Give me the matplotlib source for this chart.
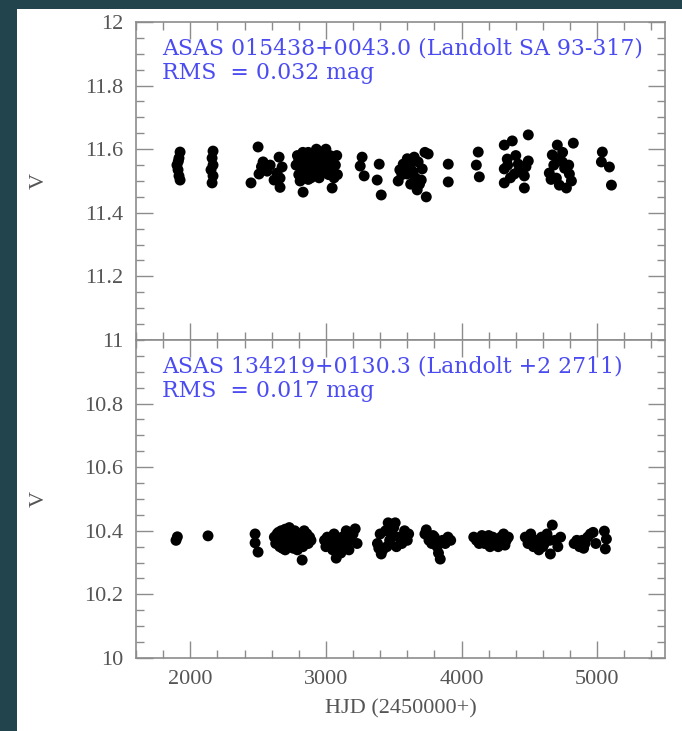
import matplotlib
matplotlib.use("Agg")
import matplotlib.pyplot as plt
from matplotlib.ticker import MultipleLocator, FormatStrFormatter
from matplotlib.patches import Rectangle

# ASAS 015438+0043.0 (Landolt SA 93-317)
hjd_a = [1925, 1917, 1902, 1910, 1917, 1925, 1912,
         2168, 2161, 2168, 2153, 2168, 2161,
         2500, 2537, 2448, 2507, 2655, 2677, 2662, 2662, 2618, 2567, 2589, 2640, 2525,
         2780, 2790, 2800, 2810, 2820, 2830, 2840, 2850, 2860, 2870, 2880, 2890, 2900,
         2910, 2920, 2930, 2940, 2950, 2960, 2970, 2980, 2990, 3000, 3010, 3020, 3030,
         3040, 3050, 3060, 3070, 3080, 3085, 2832, 3046, 2850, 2900, 2950, 3000, 2870,
         2800, 2940, 2990, 3060,
         3267, 3253, 3282, 3393, 3378, 3408,
         3533, 3570, 3651, 3754, 3710, 3673, 3740, 3599, 3703, 3620, 3640, 3680, 3560,
         3690, 3600, 3730, 3660, 3545, 3625,
         3902, 3902,
         4123, 4109, 4131,
         4315, 4374, 4337, 4315, 4418, 4492, 4463, 4315, 4463, 4389, 4492, 4340, 4400,
         4450, 4360, 4420, 4475,
         4706, 4824, 4669, 4647, 4743, 4795, 4721, 4773, 4810, 4699, 4680, 4760, 4720,
         4790, 4660, 4745,
         5038, 5031, 5090, 5105]
v_a = [11.591, 11.572, 11.550, 11.535, 11.516, 11.503, 11.562,
       11.594, 11.572, 11.550, 11.535, 11.516, 11.494,
       11.607, 11.560, 11.494, 11.522, 11.575, 11.544, 11.509, 11.480, 11.503, 11.531,
       11.550, 11.525, 11.545,
       11.55, 11.58, 11.52, 11.50, 11.56, 11.59, 11.54, 11.57, 11.52, 11.59, 11.55,
       11.51, 11.58, 11.53, 11.56, 11.60, 11.54, 11.51, 11.57, 11.59, 11.53, 11.56,
       11.60, 11.55, 11.52, 11.58, 11.54, 11.57, 11.51, 11.55, 11.58, 11.52, 11.465,
       11.478, 11.53, 11.545, 11.565, 11.535, 11.505, 11.565, 11.585, 11.545, 11.575,
       11.575, 11.547, 11.516, 11.553, 11.503, 11.456,
       11.500, 11.553, 11.575, 11.585, 11.538, 11.472, 11.450, 11.522, 11.503, 11.55,
       11.53, 11.56, 11.52, 11.49, 11.57, 11.59, 11.51, 11.535, 11.49,
       11.553, 11.497,
       11.591, 11.550, 11.513,
       11.613, 11.626, 11.569, 11.538, 11.553, 11.563, 11.516, 11.494, 11.478, 11.522,
       11.645, 11.55, 11.58, 11.54, 11.51, 11.53, 11.545,
       11.613, 11.619, 11.582, 11.525, 11.560, 11.522, 11.487, 11.478, 11.500, 11.509,
       11.55, 11.54, 11.57, 11.55, 11.505, 11.59,
       11.591, 11.560, 11.544, 11.487]

# ASAS 134219+0130.3 (Landolt +2 2711)
hjd_b = [1895, 1905, 2131,
         2478, 2478, 2500,
         2620, 2630, 2640, 2650, 2660, 2670, 2680, 2690, 2700, 2710, 2720, 2730, 2740,
         2750, 2760, 2770, 2780, 2790, 2800, 2810, 2820, 2830, 2840, 2850, 2860, 2870,
         2880, 2890, 2700, 2760, 2825, 2650, 2740, 2800, 2680,
         2990, 3000, 3010, 3030, 3050, 3060, 3076, 3090, 3100, 3120, 3140, 3150, 3170,
         3180, 3200, 3216, 3230, 3110, 3160,
         3380, 3400, 3408, 3420, 3440, 3459, 3470, 3490, 3511, 3520, 3540, 3560, 3580,
         3600, 3610, 3450, 3500, 3390,
         3730, 3740, 3760, 3780, 3800, 3820, 3830, 3843, 3860, 3880, 3900, 3920, 3790,
         4090, 4110, 4130, 4150, 4170, 4190, 4210, 4230, 4250, 4270, 4290, 4310, 4330,
         4345, 4200, 4280, 4320,
         4470, 4490, 4510, 4530, 4550, 4570, 4590, 4610, 4630, 4655, 4669, 4690, 4710,
         4730, 4520, 4600, 4650,
         4830, 4850, 4870, 4890, 4910, 4930, 4950, 4970, 4990, 5053, 5068, 5060, 4900]
v_b = [10.370, 10.381, 10.384,
       10.390, 10.362, 10.333,
       10.38, 10.36, 10.39, 10.37, 10.35, 10.40, 10.38, 10.36, 10.34, 10.39, 10.37,
       10.41, 10.35, 10.38, 10.36, 10.40, 10.37, 10.34, 10.39, 10.36, 10.38, 10.35,
       10.40, 10.37, 10.39, 10.36, 10.38, 10.37, 10.405, 10.345, 10.308, 10.395,
       10.385, 10.355, 10.345,
       10.37, 10.35, 10.38, 10.36, 10.34, 10.39, 10.314, 10.37, 10.35, 10.38, 10.36,
       10.40, 10.34, 10.37, 10.39, 10.406, 10.36, 10.33, 10.385,
       10.36, 10.39, 10.327, 10.34, 10.40, 10.425, 10.37, 10.39, 10.425, 10.35, 10.38,
       10.36, 10.40, 10.37, 10.39, 10.35, 10.41, 10.345,
       10.39, 10.403, 10.37, 10.36, 10.38, 10.35, 10.33, 10.311, 10.37, 10.36, 10.38,
       10.37, 10.385,
       10.38, 10.37, 10.36, 10.385, 10.36, 10.37, 10.35, 10.38, 10.36, 10.35, 10.38,
       10.39, 10.37, 10.38, 10.385, 10.37, 10.355,
       10.38, 10.36, 10.39, 10.35, 10.37, 10.34, 10.38, 10.36, 10.39, 10.327, 10.418,
       10.37, 10.35, 10.38, 10.37, 10.35, 10.37,
       10.36, 10.37, 10.35, 10.37, 10.36, 10.38, 10.39, 10.395, 10.36, 10.399, 10.374,
       10.343, 10.345]

titles = ["ASAS 015438+0043.0 (Landolt SA 93-317)",
          "ASAS 134219+0130.3 (Landolt +2 2711)"]
rms_labels = ["RMS  = 0.032 mag", "RMS  = 0.017 mag"]
ylims = [(11, 12), (10, 11)]
xlim = (1600, 5500)

axis_grey = "#8c8c8c"
label_grey = "#555555"
note_blue = "#4b4bf2"
tick_font = "Liberation Serif"
note_font = "DejaVu Serif"

fig = plt.figure(figsize=(6.82, 7.31), dpi=100, facecolor="#21444d")
fig.add_artist(Rectangle((17 / 682, 0), 1, 1 - 9 / 731, transform=fig.transFigure,
                         facecolor="white", edgecolor="none", zorder=-10))

ax_top = fig.add_axes([0.1994, 0.5349, 0.7757, 0.435])
ax_bot = fig.add_axes([0.1994, 0.0999, 0.7757, 0.435])

for ax, x, y, ttl, rms, yl in zip([ax_top, ax_bot], [hjd_a, hjd_b], [v_a, v_b],
                                 titles, rms_labels, ylims):
    ax.scatter(x, y, s=62, color="black", edgecolors="none", zorder=3)
    ax.set_xlim(*xlim)
    ax.set_ylim(*yl)
    ax.xaxis.set_major_locator(MultipleLocator(1000))
    ax.xaxis.set_minor_locator(MultipleLocator(200))
    ax.yaxis.set_major_locator(MultipleLocator(0.2))
    ax.yaxis.set_minor_locator(MultipleLocator(0.05))
    ax.yaxis.set_major_formatter(FormatStrFormatter("%g"))
    ax.tick_params(which="both", direction="in", top=True, right=True,
                   color=axis_grey, width=1.0, labelcolor=label_grey)
    ax.tick_params(which="major", length=12, pad=9, labelsize=16)
    ax.tick_params(which="minor", length=6)
    for sp in ax.spines.values():
        sp.set_color(axis_grey)
        sp.set_linewidth(1.2)
    ax.set_ylabel("V", family=tick_font, fontsize=16, color=label_grey)
    ax.yaxis.set_label_coords(-0.165, 0.5)
    ax.text(0.05, 0.918, ttl, transform=ax.transAxes, color=note_blue,
            family=note_font, fontsize=15.8, va="center", ha="left")
    ax.text(0.05, 0.84, rms, transform=ax.transAxes, color=note_blue,
            family=note_font, fontsize=15.8, va="center", ha="left")

ax_top.tick_params(labelbottom=False)
# the shared boundary value is labelled by the upper panel only
ax_bot.set_yticks([10, 10.2, 10.4, 10.6, 10.8])
ax_bot.set_xlabel("HJD (2450000+)", family=tick_font, fontsize=16,
                  color=label_grey, labelpad=7)
for ax in (ax_top, ax_bot):
    for lab in ax.get_xticklabels() + ax.get_yticklabels():
        lab.set_family(tick_font)

fig.savefig("out.png", dpi=100, facecolor=fig.get_facecolor())
